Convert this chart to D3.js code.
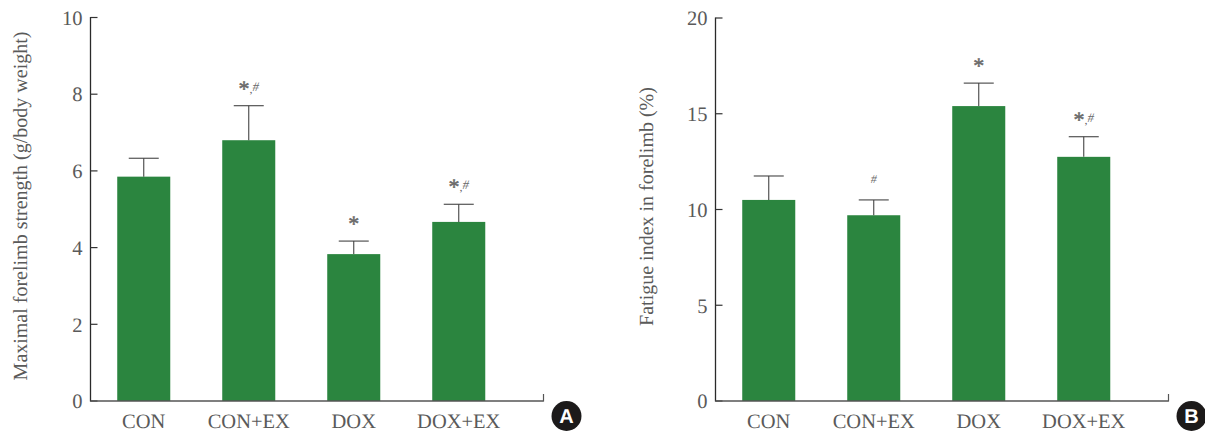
<!DOCTYPE html>
<html><head><meta charset="utf-8">
<script src="https://cdn.jsdelivr.net/npm/d3@7"></script>
<style>
html,body{margin:0;padding:0;background:#fff}
text{font-family:"Liberation Serif",serif;fill:#5a5a5a;text-rendering:geometricPrecision}
</style></head><body>
<svg id="c" width="1205" height="432"></svg>
<script>
const categories = ["CON","CON+EX","DOX","DOX+EX"];
const strengthMeans = [5.85,6.8,3.83,4.67];
const strengthTops = [6.33,7.7,4.17,5.13];
const strengthMarks = ["","*,#","*","*,#"];
const strengthTicks = [0,2,4,6,8,10];
const fatigueMeans = [10.5,9.7,15.4,12.75];
const fatigueTops = [11.75,10.5,16.6,13.8];
const fatigueMarks = ["","#","*","*,#"];
const fatigueTicks = [0,5,10,15,20];

const svg = d3.select("#c");
function panel(o){
  const g = svg.append("g");
  const y = d3.scaleLinear().domain([0,o.max]).range([401,o.top]);
  const x = d3.scaleBand().domain(categories).range([o.x0+.75,o.x0+420.75]).paddingInner(.495).paddingOuter(.2475);
  const bw = x.bandwidth();
  g.selectAll("rect.bar").data(categories).join("rect").attr("class","bar")
    .attr("x",d=>x(d)).attr("width",bw)
    .attr("y",(d,i)=>y(o.means[i])).attr("height",(d,i)=>401-y(o.means[i]))
    .attr("fill","#2b853f");
  categories.forEach((c,i)=>{
    const cx = x(c)+bw/2;
    g.append("line").attr("x1",cx).attr("x2",cx).attr("y1",y(o.means[i])).attr("y2",y(o.tops[i])).attr("stroke","#444").attr("stroke-width",1.1);
    g.append("line").attr("x1",cx-15).attr("x2",cx+15).attr("y1",y(o.tops[i])).attr("y2",y(o.tops[i])).attr("stroke","#444").attr("stroke-width",1.1);
    const m = o.marks[i];
    if(m){
      const top = y(o.tops[i]);
      const t = g.append("text").attr("x",cx).attr("y",m==="#"?top-17:top-10).attr("text-anchor","middle").style("fill","#6a6a6a");
      let prev = null;
      m.split("").forEach(ch=>{
        const s = t.append("tspan").text(ch)
          .attr("font-size",ch==="*"?22:ch===","?12:(m==="#"?12:13))
          .attr("font-style",ch==="#"?"italic":null)
          .attr("dy",ch===","?-3:ch==="#"&&prev?-2:null);
        if(ch==="*") s.style("stroke","#6a6a6a").style("stroke-width",.5);
        prev = ch;
      });
    }
    g.append("text").attr("x",cx).attr("y",428).attr("text-anchor","middle").attr("font-size",20.5).text(c);
  });
  g.append("g").attr("transform",`translate(${o.x0},0)`)
    .call(d3.axisLeft(y).tickValues(o.ticks).tickSize(0).tickPadding(8).tickFormat(d3.format("d")))
    .call(s=>{s.select(".domain").remove();s.selectAll("text").attr("font-size",20.5).attr("font-family","Liberation Serif").attr("fill","#5a5a5a").attr("dy","0.33em");});
  g.append("line").attr("x1",o.x0).attr("x2",o.x0).attr("y1",o.top-.5).attr("y2",401.5).attr("stroke","#2a2a2a").attr("stroke-width",1.3);
  o.ticks.forEach(t=>g.append("line").attr("x1",o.x0).attr("x2",o.x0+7).attr("y1",y(t)).attr("y2",y(t)).attr("stroke","#333").attr("stroke-width",1.2));
  g.append("line").attr("x1",o.x0).attr("x2",o.x0+453).attr("y1",401).attr("y2",401).attr("stroke","#555").attr("stroke-width",1.4);
  g.append("line").attr("x1",o.x0+453).attr("x2",o.x0+453).attr("y1",394).attr("y2",401.5).attr("stroke","#555").attr("stroke-width",1.2);
  g.append("text").attr("transform",`translate(${o.labelX},${o.labelY}) rotate(-90)`).attr("text-anchor","middle").attr("font-size",o.labelSize).text(o.label);
  g.append("circle").attr("cx",o.x0+476).attr("cy",416).attr("r",15).attr("fill","#1c1a1a");
  g.append("text").attr("x",o.x0+476).attr("y",423).attr("text-anchor","middle").attr("font-size",20).attr("font-weight",700).style("font-family","'Liberation Sans',sans-serif").style("fill","#fff").text(o.badge);
}
panel({x0:90.5,top:17.5,max:10,means:strengthMeans,tops:strengthTops,marks:strengthMarks,ticks:strengthTicks,
  label:"Maximal forelimb strength (g/body weight)",labelX:26.5,labelY:206,labelSize:20,badge:"A"});
panel({x0:715.5,top:18,max:20,means:fatigueMeans,tops:fatigueTops,marks:fatigueMarks,ticks:fatigueTicks,
  label:"Fatigue index in forelimb (%)",labelX:652.5,labelY:206.5,labelSize:20,badge:"B"});
</script>
</body></html>
